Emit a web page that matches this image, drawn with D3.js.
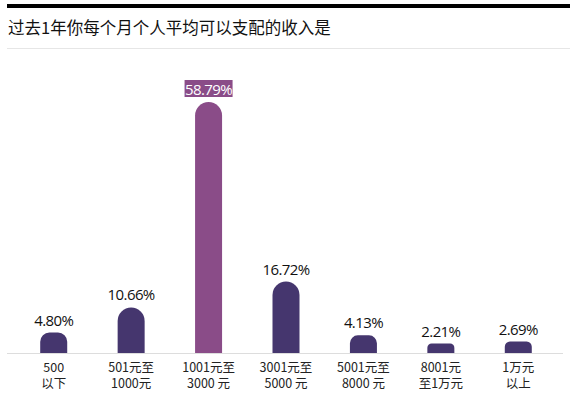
<!DOCTYPE html>
<html>
<head>
<meta charset="utf-8">
<script src="https://cdn.jsdelivr.net/npm/d3@7"></script>
<style>
  body { margin: 0; background: #fff; }
  svg { display: block; font-family: "Noto Sans CJK SC", "Noto Sans", sans-serif; }
</style>
</head>
<body>
<div id="chart"></div>
<script>
const categories = ["500\n以下", "501元至\n1000元", "1001元至\n3000 元", "3001元至\n5000 元", "5001元至\n8000 元", "8001元\n至1万元", "1万元\n以上"];
const values = [4.80, 10.66, 58.79, 16.72, 4.13, 2.21, 2.69];
const highlight = [false, false, true, false, false, false, false];

const W = 570, H = 399;
const baseY = 353;

const svg = d3.select("#chart").append("svg")
    .attr("width", W).attr("height", H);

// barre noire en haut + titre
svg.append("rect").attr("x", 7).attr("y", 4).attr("width", W - 7).attr("height", 4).attr("fill", "#000");
svg.append("text")
    .attr("x", 8).attr("y", 34)
    .attr("font-size", 16.5).attr("fill", "#111")
    .text("过去1年你每个月个人平均可以支配的收入是");
svg.append("line")
    .attr("x1", 7).attr("x2", W).attr("y1", 48.5).attr("y2", 48.5)
    .attr("stroke", "#e6e6e6");

const x = d3.scaleBand().domain(categories).range([15, 557]).padding(0);
const y = d3.scaleLinear().domain([0, 58.79]).range([baseY, 102]);
const bw = 27;

// ligne de base
svg.append("line")
    .attr("x1", 7).attr("x2", 563).attr("y1", baseY + 0.5).attr("y2", baseY + 0.5)
    .attr("stroke", "#ddd");

// barres arrondies en haut
function barPath(cx, top, w, h) {
    const r = Math.min(w / 2, h * 0.45);
    const l = cx - w / 2, rt = cx + w / 2, b = top + h;
    return `M${l},${b}V${top + r}A${r},${r} 0 0 1 ${l + r},${top}H${rt - r}A${r},${r} 0 0 1 ${rt},${top + r}V${b}Z`;
}

const data = categories.map((c, i) => ({ cat: c, v: values[i], hi: highlight[i] }));

svg.selectAll(".bar").data(data).join("path")
    .attr("class", "bar")
    .attr("d", d => {
        const cx = x(d.cat) + x.bandwidth() / 2;
        return barPath(cx, y(d.v), bw, baseY - y(d.v));
    })
    .attr("fill", d => d.hi ? "#8a4c88" : "#45366e");

// étiquettes de valeur
const lab = svg.selectAll(".val").data(data).join("g").attr("class", "val");
lab.filter(d => d.hi).append("rect")
    .attr("x", d => x(d.cat) + x.bandwidth() / 2 - 24)
    .attr("y", d => y(d.v) - 22)
    .attr("width", 48).attr("height", 17)
    .attr("fill", "#8a4c88");
lab.append("text")
    .attr("x", d => x(d.cat) + x.bandwidth() / 2)
    .attr("y", d => y(d.v) - 7)
    .attr("text-anchor", "middle")
    .attr("font-family", "'Open Sans', sans-serif")
    .attr("font-size", 15)
    .attr("letter-spacing", -0.6)
    .attr("fill", d => d.hi ? "#fff" : "#111")
    .text(d => d.v.toFixed(2) + "%");

// libellés axe x (une ligne = un texte)
const xlines = data.flatMap(d => d.cat.split("\n").map((t, i) => ({ t, i, cx: x(d.cat) + x.bandwidth() / 2 })));
svg.selectAll(".xl").data(xlines).join("text")
    .attr("class", "xl")
    .attr("x", d => d.cx)
    .attr("y", d => 372 + d.i * 16)
    .attr("text-anchor", "middle")
    .attr("font-size", 12.5)
    .attr("fill", "#222")
    .text(d => d.t);
</script>
</body>
</html>
